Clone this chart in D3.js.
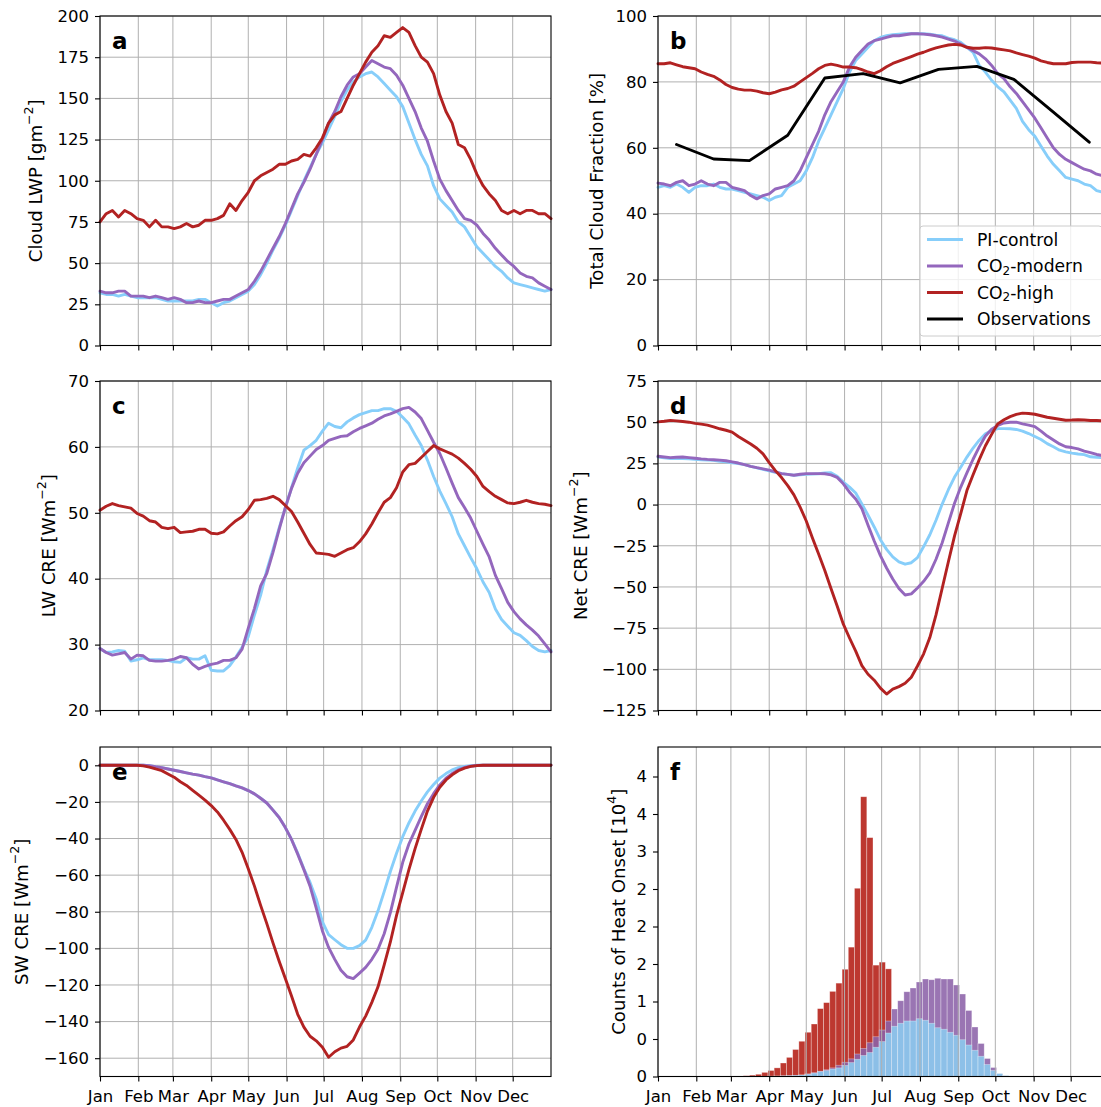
<!DOCTYPE html>
<html><head><meta charset="utf-8">
<script src="https://cdn.jsdelivr.net/npm/d3@7"></script>
<style>body{margin:0;background:#fff} svg{display:block} text{font-family:"DejaVu Sans",sans-serif}</style>
</head><body><svg id="c" width="1101" height="1107"></svg>
<script>
// ---------- DATA ----------
const days = [0,5,10,15,20,25,30,35,40,45,50,55,60,65,70,75,80,85,90,95,100,105,110,115,120,125,130,135,140,145,150,155,160,165,170,175,180,185,190,195,200,205,210,215,220,225,230,235,240,245,250,255,260,265,270,275,280,285,290,295,300,305,310,315,320,325,330,335,340,345,350,355,360,365];
const monthStarts = [0,31,59,90,120,151,181,212,243,273,304,334];
const monthLabels = ["Jan","Feb","Mar","Apr","May","Jun","Jul","Aug","Sep","Oct","Nov","Dec"];

// a: Cloud LWP
const lwpPI   = [32,31,31,30,31,30,29,29,29,29, 28,27,27,27,27,27,28,28,26,24, 26,27,29,31,33,37,43,50,58,65, 73,82,91,100,108,116,123,131,139,148, 155,160,163,165,166,163,159,155,151,145, 135,125,116,109,97,89,85,81,75,72, 66,60,56,52,48,45,41,38,37,36, 35,34,33,34];
const lwpMod  = [33,32,32,33,33,30,30,30,29,30, 29,28,29,28,26,26,27,26,26,27, 28,28,30,32,34,39,45,52,59,66, 74,83,92,99,107,116,125,135,142,151, 158,163,165,169,173,171,169,168,164,158, 150,142,132,124,112,101,94,88,82,77, 76,73,68,64,59,55,51,48,44,42, 41,38,36,34];
const lwpHigh = [75,80,82,78,82,80,77,76,72,76, 72,72,71,72,74,72,73,76,76,77, 79,86,82,88,93,100,103,105,107,110, 110,112,113,116,115,120,126,135,140,142, 150,158,165,172,178,182,188,187,190,193, 190,182,175,172,165,152,142,135,122,120, 113,104,97,92,88,82,80,82,80,82, 82,80,80,77];

// b: Total cloud fraction
const cfPI   = [48,48.5,48,49,48,46.5,48,48.5,48.5,49, 48,47.5,47.5,47,46.5,46,45.5,45,44,45, 45.5,48,49,50,53,57,62,66,70,74, 78,83,86.5,88.5,90.5,92.5,93.5,94,94.3,94.5, 94.6,94.6,94.6,94.6,94.5,94.2,94,93.3,92.8,92, 90.5,89,85,83,80.5,78.5,77,74.5,72,68, 65.5,63.5,60.5,57.5,55,53,51,50.5,50,49, 48.5,47,46.5,46];
const cfMod  = [49.3,49,48.5,49.5,50,48.5,49,50,49,48.5, 49.5,49.5,48,47.5,47,45.5,44.5,45.5,46,47.5, 48,48.5,50,53,57,61,65,70,74,77, 80,84.5,87.5,89.5,91.5,92.5,93,93.5,94,94, 94.3,94.6,94.6,94.5,94.3,94,93.6,93,92.4,91.5, 90.5,89.5,88.5,87,85,82.5,81,78.5,76.5,74, 71.5,69,66,63,60,58,56.5,55.5,54.5,53.5, 53,52,51.5,51];
const cfHigh = [85.5,85.5,85.8,85.2,84.6,84.3,84,83,82.3,81.7, 80.6,79.2,78.3,77.8,77.5,77.5,77.2,76.7,76.4,76.9, 77.6,78,78.7,80,81.3,82.6,84,85,85.4,85, 84.5,84.5,84.3,83.7,83,82.5,83.4,84.6,85.6,86.3, 87,87.7,88.4,89,89.7,90.3,90.8,91.2,91.4,91.2, 90.5,90.2,90.2,90.4,90.3,90,89.7,89.4,88.8,88.3, 87.8,87.2,86.4,85.9,85.5,85.5,85.5,85.9,86,86, 86,85.8,85.7,85.7];
const obsDays = [15,45,74,105,135,166,196,227,258,288,319,349];
const cfObs   = [61,56.6,56.1,63.8,81.2,82.5,79.7,83.8,84.7,80.8,71.1,61.7];

// c: LW CRE
const lwPI   = [29.4,28.8,28.9,29.1,29,27.5,27.7,28,27.7,27.7, 27.7,27.6,27.4,27.3,28,27.8,27.8,28.3,26.1,26, 26,26.8,28.1,29.6,31.2,34.5,37.5,41.3,44.4,47.7, 50.8,53.8,56.8,59.5,60.2,61,62.4,63.6,63.1,62.9, 63.8,64.4,64.9,65.2,65.5,65.5,65.8,65.8,65.4,64.5, 63.5,61.8,60.2,58,55.5,53.3,51.4,49.4,46.8,45, 43.2,41.5,39.5,37.9,35.4,33.8,32.8,31.8,31.4,30.6, 29.7,29.1,28.9,29.1];
const lwMod  = [29.4,28.8,28.4,28.6,28.8,27.8,28.4,28.3,27.6,27.5, 27.5,27.6,27.8,28.2,28,27,26.3,26.7,27,27.2, 27.6,27.6,28,29.3,32.5,35.5,38.9,40.8,44,47.5, 50.8,53.7,56,57.6,58.6,59.6,60.2,61,61.3,61.6, 61.7,62.3,62.8,63.2,63.6,64.2,64.7,65,65.4,65.8, 66,65.3,64.3,62.5,60.7,59,56.8,54.5,52.3,50.8, 49.2,47.2,45.2,43.3,40.5,38.5,36.4,35,33.9,33, 32.2,31.3,30.1,28.9];
const lwHigh = [50.4,51,51.4,51.1,50.9,50.7,49.9,49.5,48.8,48.6, 47.8,47.6,47.8,47,47.1,47.2,47.5,47.5,46.9,46.8, 47.1,48,48.8,49.4,50.5,51.9,52,52.2,52.5,52, 51.1,50.2,48.6,46.9,45.2,43.9,43.8,43.7,43.4,43.9, 44.4,44.7,45.6,46.8,48.3,50,51.6,52.3,53.8,56.2, 57.3,57.5,58.4,59.3,60.2,59.7,59.3,58.9,58.3,57.5, 56.6,55.5,54,53.2,52.5,52,51.5,51.4,51.6,51.9, 51.6,51.4,51.3,51.1];

// d: Net CRE
const netPI   = [28.9,28.4,27.9,27.9,27.9,27.7,27.4,27.2,27,26.8, 26.3,25.9,25.4,24.9,24.2,23.2,22.3,21.4,20.5,19.6, 18.8,18.3,17.8,18.1,18.3,18.5,18.7,19.2,19.3,17.2, 13.6,10.6,7,0.4,-6.5,-13.6,-21.3,-27.2,-31.8,-34.8, -36.2,-35.3,-32.2,-25.5,-18.3,-9.5,0.3,9,16.7,22.7, 28.8,34.3,39.1,42.9,44.8,46.1,46.1,46,45.6,44.6, 43.1,41.3,39.5,37,35.1,33,32,31.2,30.7,30.3, 29,28.7,28.5,28.4];
const netMod  = [29.3,28.9,28.5,28.7,28.9,28.5,28.1,27.7,27.4,27.2, 27,26.6,25.9,25.2,24.2,23.2,22.4,21.7,20.9,19.8, 18.8,18.3,17.8,18.4,18.8,18.8,18.8,18.7,18,16.5, 12.6,7.5,3.4,-2.5,-12.5,-22.1,-31,-38.5,-45.2,-51, -54.9,-54.2,-50.6,-46.6,-41.5,-33.2,-23.2,-11.1,0.8,10.6, 19.2,27.5,35,41.6,45.7,48,49.5,50,50,49, 48.2,47.3,44.6,41.6,39.2,36.8,35.1,34.6,33.8,32.4, 31.5,30.4,29.7,29.5];
const netHigh = [50.2,50.6,51.1,50.8,50.4,50,49.3,48.8,48.2,47.2, 46,45.1,44,41.3,39,36.8,34.2,30.8,25.5,20.6, 16.4,11.5,5.9,-1.5,-10,-20.3,-30,-40,-51,-61.6, -72.6,-81,-89,-97.8,-103,-106.6,-111.4,-115,-112,-110.5, -108.5,-104.8,-98,-90.6,-80.7,-67,-50.8,-34.7,-19,-5.5, 8.5,18.1,27.3,35.7,42.6,49,51.5,53.4,54.7,55.5, 55.3,54.8,53.9,53,52.4,51.8,51.2,51.3,51.5,51.3, 51,51,50.8,50.7];

// e: SW CRE
const swPI   = [0,0,0,0,0,0,0,0,-0.2,-0.8, -1.3,-2,-2.7,-3.4,-4.1,-4.8,-5.4,-6.2,-6.9,-8, -9,-10,-11.2,-12.3,-13.8,-15.6,-18,-20.6,-24.5,-28.5, -34,-40.5,-48,-56.5,-64,-73,-85.5,-92.5,-95.3,-98, -100,-100,-98.5,-95.5,-88.5,-79.5,-69,-58,-48,-39, -31.5,-25,-19.5,-14.5,-10.5,-7,-4.5,-2.5,-1.3,-0.6, -0.2,0,0,0,0,0,0,0,0,0, 0,0,0,0];
const swMod  = [0,0,0,0,0,0,0,0,-0.2,-0.8, -1.3,-2,-2.7,-3.4,-4.1,-4.8,-5.4,-6.2,-6.9,-8, -9,-10,-11.2,-12.3,-13.8,-15.6,-18,-20.6,-24.5,-28.5, -34,-40.5,-48.5,-57,-66,-78,-90.5,-99.5,-106,-112, -115.5,-116.5,-113.5,-110.4,-106,-100.5,-92,-80.5,-66.5,-53, -43,-35.5,-28,-21,-15.5,-10.7,-7,-4.5,-2.5,-1.2, -0.5,-0.1,0,0,0,0,0,0,0,0, 0,0,0,0];
const swHigh = [0,0,0,0,0,0,0,-0.3,-1,-2, -2.9,-4.7,-6.5,-9,-11,-13.7,-16.3,-19,-22,-25.5, -30,-35,-40.5,-47.5,-56.5,-66,-76.5,-86.5,-97,-107, -116.5,-126,-136,-143,-148,-150.5,-154,-159.5,-156.5,-154.5, -153.5,-150,-143,-137,-129.5,-121,-109,-96.5,-82,-69.5, -57,-45.5,-35,-25,-17.5,-12,-8,-5.2,-3,-1.5, -0.6,-0.2,0,0,0,0,0,0,0,0, 0,0,0,0];

// f: histogram of heat onset (5-day bins, counts in 10^4)
const binStarts = [64,69,74,79,84,89,94,99,104,109,114,119,124,129,134,139,144,149,154,159,164,169,174,179,184,189,194,199,204,209,214,219,224,229,234,239,244,249,254,259,264,269,274,279];
const histHigh = [0.005,0.01,0.018,0.03,0.055,0.08,0.115,0.18,0.255,0.36,0.47,0.59,0.70,0.905,0.985,1.135,1.245,1.43,1.725,2.51,3.73,3.185,1.485,1.525,1.435,0,0,0,0,0,0,0,0,0,0,0,0,0,0,0,0,0,0,0];
const histMod  = [0,0,0,0.002,0.003,0.005,0.007,0.01,0.012,0.016,0.02,0.035,0.05,0.07,0.09,0.115,0.15,0.19,0.235,0.30,0.375,0.45,0.53,0.62,0.74,0.90,1.01,1.13,1.18,1.26,1.30,1.29,1.31,1.30,1.30,1.22,1.10,0.88,0.66,0.44,0.24,0.12,0.035,0];
const histPI   = [0,0,0,0.001,0.002,0.003,0.005,0.008,0.01,0.015,0.02,0.03,0.045,0.065,0.08,0.10,0.115,0.147,0.185,0.23,0.28,0.32,0.39,0.465,0.58,0.67,0.71,0.74,0.74,0.77,0.75,0.71,0.65,0.63,0.59,0.55,0.49,0.42,0.35,0.27,0.16,0.08,0.04,0.012];

const ticksA = [0,25,50,75,100,125,150,175,200];
const ticksB = [0,20,40,60,80,100];
const ticksC = [20,30,40,50,60,70];
const ticksD = [-125,-100,-75,-50,-25,0,25,50,75];
const ticksE = [-160,-140,-120,-100,-80,-60,-40,-20,0];
const ticksF = [0,0.5,1,1.5,2,2.5,3,3.5,4];
const tickLabelsF = ["0","0","1","2","2","2","3","4","4"];
const legendLabels = [["PI-control"],["CO","2","-modern"],["CO","2","-high"],["Observations"]];

// ---------- DRAW ----------
const svg = d3.select("#c");
const FONT = 16.5, LFONT = 18.2, LEGFONT = 17.2, LW = 2.9;
const C = {pi:"#87cefa", mod:"#9467bd", high:"#b22222", obs:"#000000"};
const colX = [100,658], rowY = [16,381,747], PW = 451, PH = 329.5;
const x = d3.scaleLinear().domain([0,365]).range([0,PW]);

function addLabel(g, parts, cx, cy){
  const t = g.append("text").attr("transform",`translate(${cx},${cy}) rotate(-90)`)
    .attr("text-anchor","middle").attr("dominant-baseline","central")
    .style("font-size",LFONT+"px").attr("fill","#000");
  t.append("tspan").text(parts[0]);
  if(parts.length>1){
    t.append("tspan").style("font-size","12.5px").attr("dy",-7.5).text(parts[1]);
    t.append("tspan").attr("dy",7.5).text(parts[2]);
  }
}

function panel(o){
  const g = svg.append("g").attr("transform",`translate(${colX[o.col]},${rowY[o.row]})`);
  const y = d3.scaleLinear().domain(o.yDomain).range([PH,0]);
  const drawGrid = () => {
    const gg = g.append("g").attr("stroke","#b0b0b0").attr("stroke-width",1);
    if(o.hgrid) gg.selectAll("line.h").data(o.yTicks).join("line").attr("class","h")
      .attr("x1",0).attr("x2",PW).attr("y1",d=>y(d)).attr("y2",d=>y(d));
    gg.selectAll("line.v").data(monthStarts).join("line").attr("class","v")
      .attr("x1",d=>x(d)).attr("x2",d=>x(d)).attr("y1",0).attr("y2",PH);
  };
  if(!o.gridOnTop) drawGrid();
  o.draw(g, y);
  if(o.gridOnTop) drawGrid();
  g.append("rect").attr("x",0).attr("y",0).attr("width",PW).attr("height",PH)
    .attr("fill","none").attr("stroke","#000").attr("stroke-width",1.1);
  const ax = g.append("g").attr("transform",`translate(0,${PH})`)
    .call(d3.axisBottom(x).tickValues(monthStarts).tickSize(5)
      .tickFormat(d => o.xLabels ? monthLabels[monthStarts.indexOf(d)] : ""));
  ax.select(".domain").remove();
  ax.attr("font-size",FONT).attr("font-family","DejaVu Sans");
  ax.selectAll("line").attr("stroke","#000").attr("stroke-width",1.1);
  ax.selectAll("text").attr("y",25).attr("dy",null).attr("fill","#000");
  const ay = g.append("g")
    .call(d3.axisLeft(y).tickValues(o.yTicks).tickSize(5).tickPadding(6)
      .tickFormat(d => o.yLabels ? o.yLabels[o.yTicks.indexOf(d)] : d3.format("d")(d)));
  ay.select(".domain").remove();
  ay.attr("font-size",FONT).attr("font-family","DejaVu Sans");
  ay.selectAll("line").attr("stroke","#000").attr("stroke-width",1.1);
  ay.selectAll("text").attr("fill","#000");
  addLabel(svg, o.ylabel, o.ylabelX, rowY[o.row] + PH/2);
  g.append("text").attr("x",12).attr("y",33).text(o.letter)
    .style("font-size","23px").style("font-weight","bold").attr("fill","#000");
  return {g, y};
}

function lines(series){
  return (g, y) => {
    const ln = d3.line().x((d,i)=>x(days[i])).y(d=>y(d));
    series.forEach(([arr,col]) => {
      g.append("path").datum(arr).attr("d",ln).attr("fill","none")
        .attr("stroke",col).attr("stroke-width",LW).attr("stroke-linejoin","round").attr("stroke-linecap","round");
    });
  };
}

panel({col:0,row:0,yDomain:[0,200],yTicks:ticksA,hgrid:true,letter:"a",
  ylabel:["Cloud LWP [gm","−2","]"],ylabelX:35,
  draw:lines([[lwpPI,C.pi],[lwpMod,C.mod],[lwpHigh,C.high]])});

panel({col:1,row:0,yDomain:[0,100],yTicks:ticksB,hgrid:true,letter:"b",
  ylabel:["Total Cloud Fraction [%]"],ylabelX:596,
  draw:(g,y)=>{
    lines([[cfPI,C.pi],[cfMod,C.mod],[cfHigh,C.high]])(g,y);
    const lo = d3.line().x((d,i)=>x(obsDays[i])).y(d=>y(d));
    g.append("path").datum(cfObs).attr("d",lo).attr("fill","none").attr("stroke",C.obs)
      .attr("stroke-width",LW).attr("stroke-linejoin","round").attr("stroke-linecap","round");
  }});

panel({col:0,row:1,yDomain:[20,70],yTicks:ticksC,hgrid:true,letter:"c",
  ylabel:["LW CRE [Wm","−2","]"],ylabelX:48,
  draw:lines([[lwPI,C.pi],[lwMod,C.mod],[lwHigh,C.high]])});

panel({col:1,row:1,yDomain:[-125,75],yTicks:ticksD,hgrid:true,letter:"d",
  ylabel:["Net CRE [Wm","−2","]"],ylabelX:580,
  draw:lines([[netPI,C.pi],[netMod,C.mod],[netHigh,C.high]])});

panel({col:0,row:2,yDomain:[-170,10],yTicks:ticksE,hgrid:true,letter:"e",xLabels:true,
  ylabel:["SW CRE [Wm","−2","]"],ylabelX:21,
  draw:lines([[swPI,C.pi],[swMod,C.mod],[swHigh,C.high]])});

panel({col:1,row:2,yDomain:[0,PH/75],yTicks:ticksF,yLabels:tickLabelsF,hgrid:false,gridOnTop:true,
  letter:"f",xLabels:true,ylabel:["Counts of Heat Onset [10","4","]"],ylabelX:618,
  draw:(g,y)=>{
    const sets = [[histHigh,"#bd3830",1],[histMod,"#8c62a8",0.88],[histPI,"#8cc4eb",0.95]];
    sets.forEach(([arr,col,op])=>{
      g.append("g").selectAll("rect").data(arr.map((v,i)=>({s:binStarts[i],v})).filter(d=>d.v>0))
        .join("rect").attr("x",d=>x(d.s)).attr("width",d=>x(d.s+5)-x(d.s))
        .attr("y",d=>y(d.v)).attr("height",d=>PH-y(d.v))
        .attr("fill",col).attr("fill-opacity",op)
        .attr("stroke","#ffffff").attr("stroke-opacity",0.45).attr("stroke-width",0.7);
    });
  }});

// legend in panel b
const lg = svg.append("g").attr("transform","translate(920,226)");
lg.append("rect").attr("x",0).attr("y",0).attr("width",182).attr("height",110).attr("rx",3)
  .attr("fill","#fff").attr("fill-opacity",0.8).attr("stroke","#cccccc").attr("stroke-width",1);
const legCols = [C.pi,C.mod,C.high,C.obs];
legendLabels.forEach((parts,i)=>{
  const yy = 13.5 + i*26.5;
  lg.append("line").attr("x1",7).attr("x2",43).attr("y1",yy).attr("y2",yy)
    .attr("stroke",legCols[i]).attr("stroke-width",LW);
  const t = lg.append("text").attr("x",57).attr("y",yy).attr("dominant-baseline","central")
    .style("font-size",LEGFONT+"px").attr("fill","#000");
  t.append("tspan").text(parts[0]);
  if(parts.length>1){
    t.append("tspan").style("font-size","12px").attr("dy",4.5).text(parts[1]);
    t.append("tspan").attr("dy",-4.5).text(parts[2]);
  }
});
</script></body></html>
